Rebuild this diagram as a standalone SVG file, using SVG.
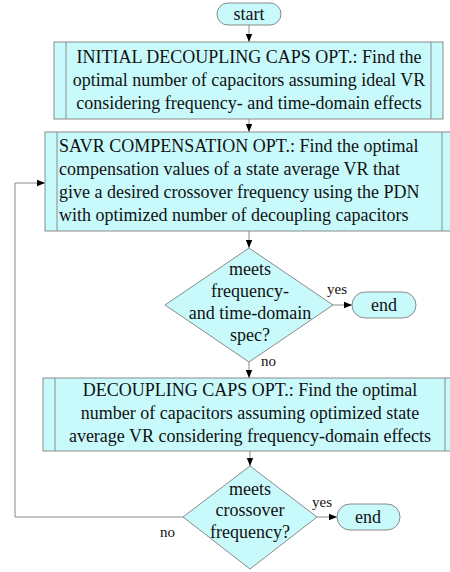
<svg xmlns="http://www.w3.org/2000/svg" width="450" height="572" viewBox="0 0 450 572" font-family="Liberation Serif, serif">
<style>
.sh{fill:#c8fafc;stroke:#8a8a8a;stroke-width:1}
.in{fill:none;stroke:#8a8a8a;stroke-width:1}
.t{font-family:"Liberation Serif","Times New Roman",serif;font-size:18px;fill:#111}
.c{text-anchor:middle}
.s{font-family:"Liberation Serif","Times New Roman",serif;font-size:15px;fill:#111}
.ln{fill:none;stroke:#8a8a8a;stroke-width:1}
</style>
<defs>
<marker id="ah" viewBox="0 0 8 8" refX="8" refY="4" markerWidth="8" markerHeight="8" markerUnits="userSpaceOnUse" orient="auto">
<path d="M0,0.8 L8,4 L0,7.2 Z" fill="#000"/>
</marker>
</defs>
<rect width="450" height="572" fill="#fff"/>
<g id="connectors">
<path class="ln" d="M249,25 V42" marker-end="url(#ah)"/>
<path class="ln" d="M249,119 V132" marker-end="url(#ah)"/>
<path class="ln" d="M249,231 V248" marker-end="url(#ah)"/>
<path class="ln" d="M333,305 H352" marker-end="url(#ah)"/>
<path class="ln" d="M249,362 V378" marker-end="url(#ah)"/>
<path class="ln" d="M250,451 V466" marker-end="url(#ah)"/>
<path class="ln" d="M317,517 H337" marker-end="url(#ah)"/>
<path class="ln" d="M183,517 H15 V183 H45" marker-end="url(#ah)"/>
<text class="s" x="327" y="294">yes</text>
<text class="s" x="261" y="366">no</text>
<text class="s" x="312" y="507">yes</text>
<text class="s" x="160" y="537">no</text>
</g>
<g id="start">
<rect class="sh" x="217" y="3" width="64" height="22" rx="11"/>
<text class="t c" x="249" y="20">start</text>
</g>
<g id="box1">
<rect class="sh" x="54" y="42" width="389" height="77"/>
<path class="in" d="M66,42 V119 M431,42 V119"/>
<text class="t c" x="249" y="63">INITIAL DECOUPLING CAPS OPT.: Find the</text>
<text class="t c" x="249" y="86">optimal number of capacitors assuming ideal VR</text>
<text class="t c" x="249" y="109">considering frequency- and time-domain effects</text>
</g>
<g id="box2">
<rect class="sh" x="45" y="132" width="409" height="99"/>
<path class="in" d="M57,132 V231 M442,132 V231"/>
<text class="t" x="59" y="152">SAVR COMPENSATION OPT.: Find the optimal</text>
<text class="t" x="59" y="175">compensation values of a state average VR that</text>
<text class="t" x="59" y="198">give a desired crossover frequency using the PDN</text>
<text class="t" x="59" y="221">with optimized number of decoupling capacitors</text>
</g>
<g id="decision1">
<polygon class="sh" points="249,248 333,305 249,362 165,305"/>
<text class="t c" x="250" y="275">meets</text>
<text class="t c" x="250" y="297">frequency-</text>
<text class="t c" x="250" y="319">and time-domain</text>
<text class="t c" x="250" y="341">spec?</text>
</g>
<g id="end1">
<rect class="sh" x="352" y="292" width="64" height="26" rx="13"/>
<text class="t c" x="384" y="311">end</text>
</g>
<g id="box3">
<rect class="sh" x="43" y="378" width="414" height="73"/>
<path class="in" d="M55,378 V451 M445,378 V451"/>
<text class="t c" x="250" y="396">DECOUPLING CAPS OPT.: Find the optimal</text>
<text class="t c" x="250" y="419">number of capacitors assuming optimized state</text>
<text class="t c" x="250" y="442">average VR considering frequency-domain effects</text>
</g>
<g id="decision2">
<polygon class="sh" points="250,466 317,517 250,569 183,517"/>
<text class="t c" x="250" y="495">meets</text>
<text class="t c" x="250" y="516">crossover</text>
<text class="t c" x="250" y="538">frequency?</text>
</g>
<g id="end2">
<rect class="sh" x="337" y="504" width="63" height="26" rx="13"/>
<text class="t c" x="368" y="523">end</text>
</g>
</svg>
